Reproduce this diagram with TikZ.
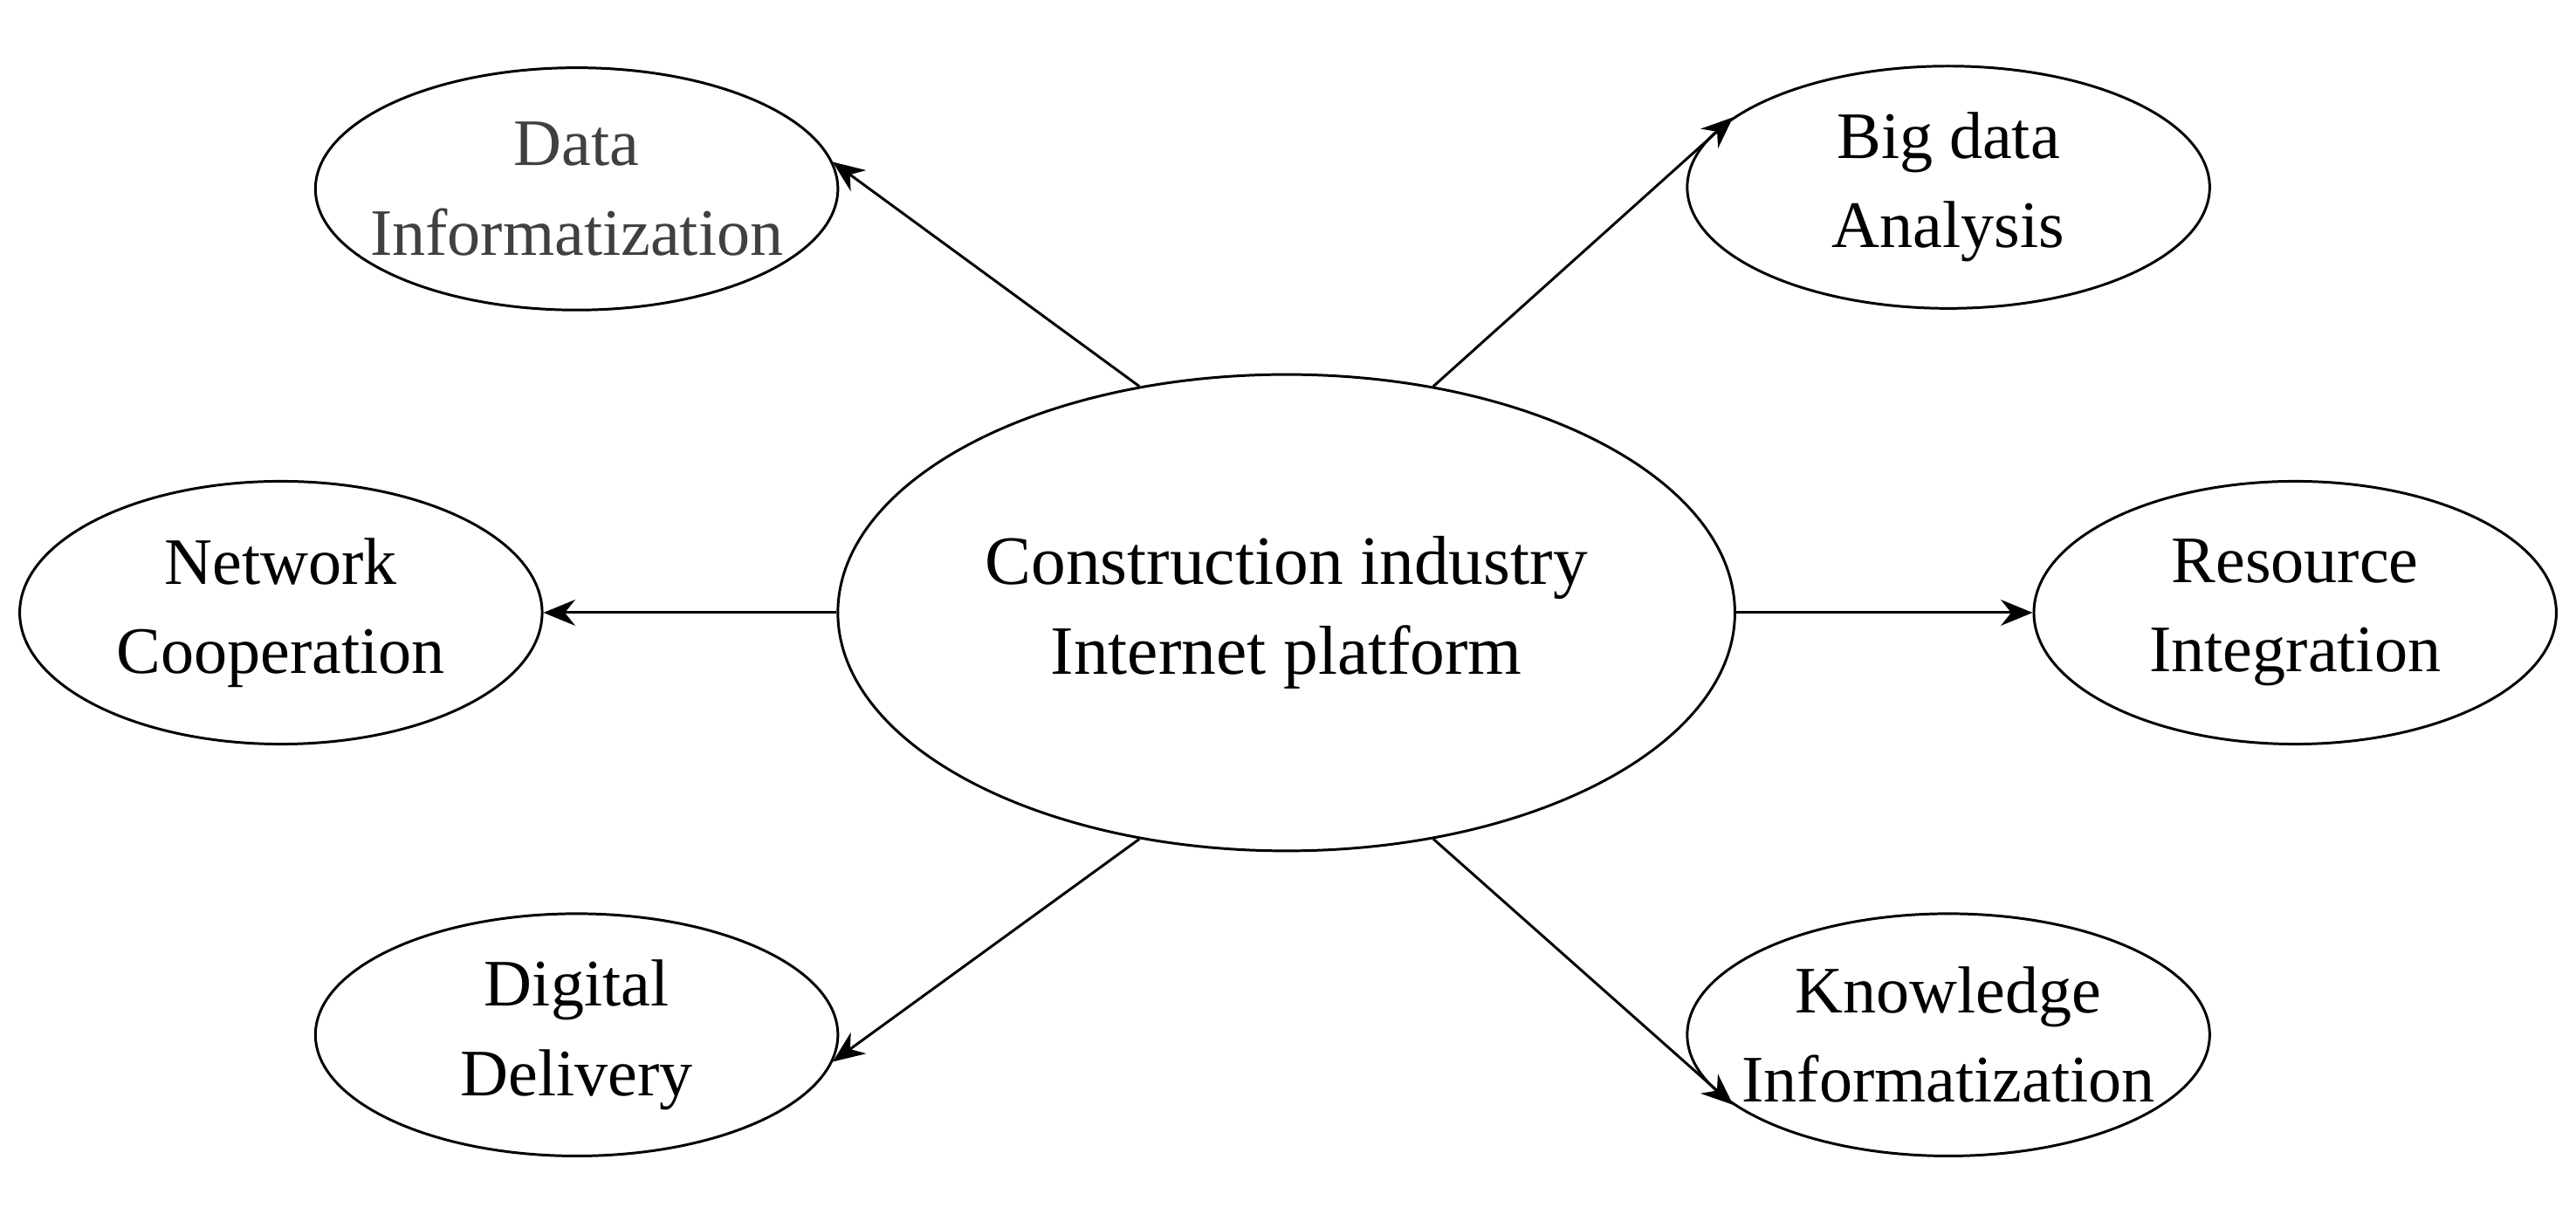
\documentclass[tikz,border=0pt]{standalone}
\usepackage{fontspec}
\setmainfont{Liberation Serif}
\usetikzlibrary{shapes.geometric,arrows.meta}
\begin{document}
\begin{tikzpicture}[x=1cm,y=1cm,
    bubble/.style={draw, ellipse, line width=0.9pt, minimum width=6.36cm, minimum height=2.95cm, inner xsep=-0.8cm, inner ysep=-0.3cm, align=center, font=\fontsize{23}{31}\selectfont},
    link/.style={-{Stealth[length=11pt,width=9pt]}, line width=0.9pt}]
    \useasboundingbox (0,0) rectangle (31.36,14.95);
    \node[bubble, minimum width=10.92cm, minimum height=5.8cm, font=\fontsize{24}{31}\selectfont] (hub) at (15.66,7.49) {Construction industry\\Internet platform};
    \node[bubble, text=black!75] (datainf) at (7.02,12.65) {Data\\Informatization};
    \node[bubble] (bigdata) at (23.72,12.67) {Big data\\Analysis};
    \node[bubble, minimum height=3.2cm] (network) at (3.42,7.49) {Network\\Cooperation};
    \node[bubble, minimum height=3.2cm] (resource) at (27.94,7.49) {Resource\\Integration};
    \node[bubble] (digital) at (7.02,2.35) {Digital\\Delivery};
    \node[bubble] (knowledge) at (23.72,2.35) {Knowledge\\Informatization};
    \draw[link] (hub.123) -- (datainf.6);
    \draw[link] (hub.57) -- (bigdata.162);
    \draw[link] (hub.west) -- (network.east);
    \draw[link] (hub.east) -- (resource.west);
    \draw[link] (hub.237) -- (digital.-6);
    \draw[link] (hub.-57) -- (knowledge.198);
  \end{tikzpicture}
\end{document}
